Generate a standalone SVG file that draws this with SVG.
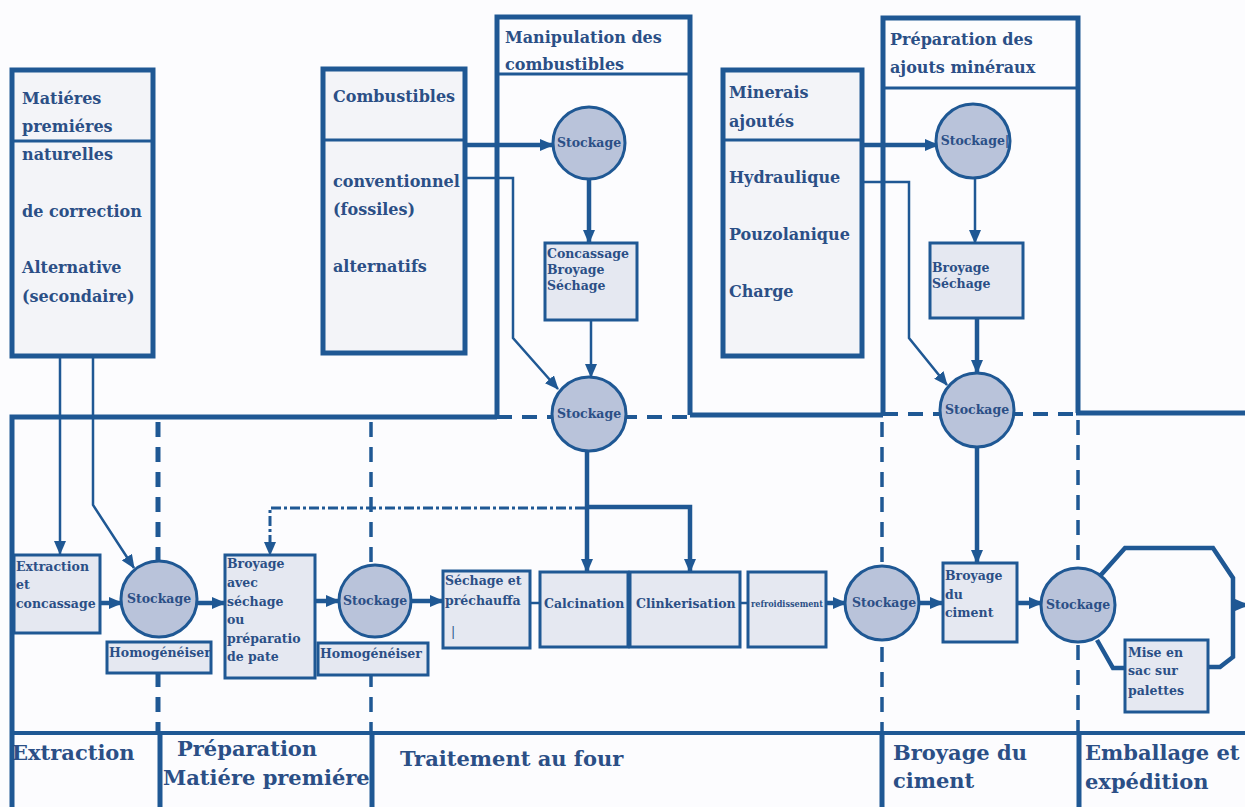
<svg xmlns="http://www.w3.org/2000/svg" width="1245" height="807" viewBox="0 0 1245 807">
  <defs>
    <marker id="arr" viewBox="0 0 14 12" refX="13" refY="6" markerWidth="14" markerHeight="12" markerUnits="userSpaceOnUse" orient="auto">
      <path d="M0,0 L14,6 L0,12 z" fill="#1f5894"/>
    </marker>
    <style>
      .bg { fill: #fcfcfe; }
      .frame { fill: none; stroke: #1f5894; stroke-width: 5; }
      .div { fill: none; stroke: #1f5894; stroke-width: 3.5; stroke-dasharray: 15 10; }
      .src { fill: #f3f4f8; stroke: #1f5894; stroke-width: 5; }
      .sep { stroke: #1f5894; stroke-width: 3; }
      .proc { fill: #e5e8f1; stroke: #1f5894; stroke-width: 3; }
      .store { fill: #b9c3da; stroke: #1f5894; stroke-width: 3; }
      .c { fill: none; stroke: #1f5894; stroke-width: 2.5; }
      .ct { fill: none; stroke: #1f5894; stroke-width: 4.5; }
      .dd { fill: none; stroke: #1f5894; stroke-width: 3; stroke-dasharray: 10 3 3 3; }
      .arr { marker-end: url(#arr); }
      text { font-family: "DejaVu Serif", "Liberation Serif", serif; font-weight: bold; fill: #2b4f86; }
      .h { font-size: 16px; }
      .s { font-size: 12.5px; }
      .st { font-size: 12.5px; text-anchor: middle; }
      .xs { font-size: 9.5px; }
      .b { font-size: 21px; }
    </style>
  </defs>

  <rect class="bg" x="0" y="0" width="1245" height="807"/>

  <!-- plant frame: top edge, left edge, stage band -->
  <g id="frame">
    <path class="frame" d="M12,807 V417 H497"/>
    <path class="frame" d="M690,415 H883"/>
    <path class="frame" d="M1076,413 H1245"/>
    <path class="div" d="M497,417 H690" style="stroke-width:4px"/>
    <path class="div" d="M883,414 H1076" style="stroke-width:4px"/>
    <path class="frame" d="M12,733 H1245" style="stroke-width:4px"/>
    <!-- stage dividers: dashed in the process area, solid in the label band -->
    <path class="div" d="M158,422 V733" style="stroke-width:5px"/>
    <path class="div" d="M371,422 V733"/>
    <path class="div" d="M882,422 V733"/>
    <path class="div" d="M1078,420 V733"/>
    <path class="frame" d="M160,733 V807 M882,733 V807 M1079,733 V807"/>
  </g>

  <!-- stage labels -->
  <g id="stages">
    <text class="b" x="12" y="760">Extraction</text>
    <text class="b" x="177" y="756">Préparation</text>
    <text class="b" x="163" y="785">Matiére premiére</text>
    <text class="b" x="400" y="766">Traitement au four</text>
    <text class="b" x="893" y="760">Broyage du</text>
    <text class="b" x="893" y="788">ciment</text>
    <text class="b" x="1085" y="760">Emballage et</text>
    <text class="b" x="1085" y="789">expédition</text>
  </g>
  <path class="frame" d="M372,733 V807"/>

  <!-- input boxes -->
  <g id="matieres">
    <rect class="src" x="12" y="70" width="141" height="286"/>
    <line class="sep" x1="12" y1="141" x2="153" y2="141"/>
    <text class="h" x="22" y="104">Matiéres</text>
    <text class="h" x="22" y="132">premiéres</text>
    <text class="h" x="22" y="160">naturelles</text>
    <text class="h" x="22" y="217">de correction</text>
    <text class="h" x="22" y="273">Alternative</text>
    <text class="h" x="22" y="302">(secondaire)</text>
  </g>

  <g id="combustibles">
    <rect class="src" x="323" y="69" width="142" height="284"/>
    <text class="h" x="333" y="102">Combustibles</text>
    <line class="sep" x1="323" y1="140" x2="465" y2="140"/>
    <text class="h" x="333" y="187">conventionnel</text>
    <text class="h" x="333" y="215">(fossiles)</text>
    <text class="h" x="333" y="272">alternatifs</text>
  </g>

  <g id="minerais">
    <rect class="src" x="723" y="70" width="139" height="286"/>
    <line class="sep" x1="723" y1="140" x2="862" y2="140"/>
    <text class="h" x="729" y="98">Minerais</text>
    <text class="h" x="729" y="127">ajoutés</text>
    <text class="h" x="729" y="183">Hydraulique</text>
    <text class="h" x="729" y="240">Pouzolanique</text>
    <text class="h" x="729" y="297">Charge</text>
  </g>

  <!-- handling areas -->
  <g id="manipulation">
    <path class="frame" d="M497,417 V17 H690 V415"/>
    <line class="sep" x1="497" y1="74" x2="690" y2="74"/>
    <text class="h" x="505" y="43">Manipulation des</text>
    <text class="h" x="505" y="70">combustibles</text>
  </g>

  <g id="preparation-ajouts">
    <path class="frame" d="M883,415 V18 H1078 V413"/>
    <line class="sep" x1="883" y1="88" x2="1078" y2="88"/>
    <text class="h" x="890" y="45">Préparation des</text>
    <text class="h" x="890" y="73">ajouts minéraux</text>
  </g>

  <!-- connectors -->
  <g id="connectors">
    <path class="c arr" d="M60,357 V554"/>
    <path class="c arr" d="M93,357 V505 L134,568"/>
    <path class="ct arr" d="M100,603 H122"/>
    <path class="ct arr" d="M197,603 H225"/>
    <path class="ct arr" d="M315,601 H339"/>
    <path class="ct arr" d="M411,601 H443"/>
    <path class="c" d="M530,603 H540"/>
    <path class="c" d="M740,603 H748"/>
    <path class="ct arr" d="M826,603 H846"/>
    <path class="ct arr" d="M919,603 H943"/>
    <path class="ct arr" d="M1017,603 H1042"/>
    <path class="ct" d="M1100,576 L1125,548 H1213 L1233,578 V657 L1220,667 H1208"/>
    <path class="ct" d="M1097,640 L1113,668 H1125"/>
    <path class="ct arr" d="M1233,605 H1248"/>
    <!-- fuels -->
    <path class="ct arr" d="M465,145 H553"/>
    <path class="c arr" d="M465,178 H513 V338 L558,389"/>
    <path class="ct arr" d="M589,180 V243"/>
    <path class="c arr" d="M591,320 V377"/>
    <path class="ct arr" d="M587,451 V572"/>
    <path class="ct arr" d="M587,507 H690 V572"/>
    <path class="dd arr" d="M585,508 H270 V555"/>
    <!-- mineral additions -->
    <path class="ct arr" d="M862,145 H938"/>
    <path class="c arr" d="M862,182 H909 V338 L947,385"/>
    <path class="c arr" d="M975,178 V243"/>
    <path class="ct arr" d="M977,318 V373"/>
    <path class="ct arr" d="M977,447 V563"/>
  </g>

  <!-- process steps -->
  <g id="stock-comb-1">
    <circle class="store" cx="589" cy="143" r="36"/>
    <text class="st" x="589" y="147">Stockage</text>
  </g>
  <g id="concassage">
    <rect class="proc" x="545" y="243" width="92" height="77"/>
    <text class="s" x="547" y="258">Concassage</text>
    <text class="s" x="547" y="274">Broyage</text>
    <text class="s" x="547" y="290">Séchage</text>
  </g>
  <g id="stock-comb-2">
    <circle class="store" cx="589" cy="414" r="37"/>
    <text class="st" x="589" y="418">Stockage</text>
  </g>
  <g id="stock-ajouts-1">
    <circle class="store" cx="973" cy="141" r="37"/>
    <text class="st" x="975" y="145">Stockage|</text>
  </g>
  <g id="broyage-sechage">
    <rect class="proc" x="930" y="243" width="93" height="75"/>
    <text class="s" x="932" y="272">Broyage</text>
    <text class="s" x="932" y="288">Séchage</text>
  </g>
  <g id="stock-ajouts-2">
    <circle class="store" cx="977" cy="410" r="37"/>
    <text class="st" x="977" y="414">Stockage</text>
  </g>

  <g id="extraction">
    <rect class="proc" x="14" y="555" width="86" height="78"/>
    <text class="s" x="16" y="571">Extraction</text>
    <text class="s" x="16" y="589">et</text>
    <text class="s" x="16" y="608">concassage</text>
  </g>
  <g id="stock-1">
    <rect class="proc" x="107" y="642" width="104" height="31"/>
    <text class="s" x="109" y="657">Homogénéiser</text>
    <circle class="store" cx="159" cy="599" r="38"/>
    <text class="st" x="159" y="603">Stockage</text>
  </g>
  <g id="broyage-cru">
    <rect class="proc" x="225" y="555" width="90" height="123"/>
    <text class="s" x="227" y="568">Broyage</text>
    <text class="s" x="227" y="587">avec</text>
    <text class="s" x="227" y="606">séchage</text>
    <text class="s" x="227" y="624">ou</text>
    <text class="s" x="227" y="643">préparatio</text>
    <text class="s" x="227" y="661">de pate</text>
  </g>
  <g id="stock-2">
    <rect class="proc" x="318" y="643" width="110" height="32"/>
    <text class="s" x="320" y="658">Homogénéiser</text>
    <circle class="store" cx="375" cy="601" r="36"/>
    <text class="st" x="375" y="605">Stockage</text>
  </g>
  <g id="sechage">
    <rect class="proc" x="443" y="571" width="87" height="77"/>
    <text class="s" x="445" y="585">Séchage et</text>
    <text class="s" x="445" y="605">préchauffa</text>
    <text class="s" x="451" y="636" style="font-weight:normal">|</text>
  </g>
  <g id="calcination">
    <rect class="proc" x="540" y="572" width="88" height="75"/>
    <text class="s" x="544" y="608">Calcination</text>
  </g>
  <g id="clinkerisation">
    <rect class="proc" x="630" y="572" width="110" height="75"/>
    <text class="s" x="636" y="608">Clinkerisation</text>
  </g>
  <g id="refroidissement">
    <rect class="proc" x="748" y="572" width="78" height="75"/>
    <text class="xs" x="751" y="607" textLength="72" lengthAdjust="spacingAndGlyphs">refroidissement</text>
  </g>
  <g id="stock-clinker">
    <circle class="store" cx="882" cy="603" r="37"/>
    <text class="st" x="884" y="607">Stockage</text>
  </g>
  <g id="broyage-ciment">
    <rect class="proc" x="943" y="563" width="74" height="79"/>
    <text class="s" x="945" y="580">Broyage</text>
    <text class="s" x="945" y="599">du</text>
    <text class="s" x="945" y="617">ciment</text>
  </g>
  <g id="stock-ciment">
    <circle class="store" cx="1078" cy="605" r="37"/>
    <text class="st" x="1078" y="609">Stockage</text>
  </g>
  <g id="ensachage">
    <rect class="proc" x="1125" y="640" width="83" height="72"/>
    <text class="s" x="1128" y="657">Mise en</text>
    <text class="s" x="1128" y="675">sac sur</text>
    <text class="s" x="1128" y="695">palettes</text>
  </g>
</svg>
